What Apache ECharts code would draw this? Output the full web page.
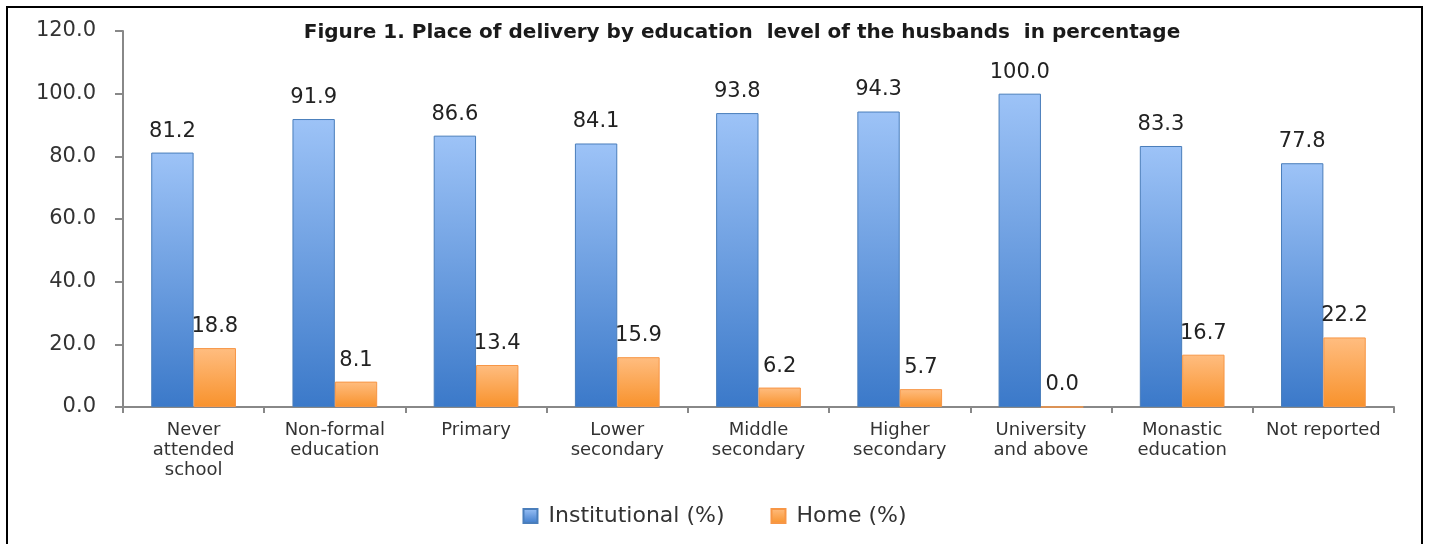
<!DOCTYPE html>
<html lang="en">
<head>
    <meta charset="UTF-8">
    <title>Place of delivery by education level of the husbands</title>
    <style>
        * { margin: 0; padding: 0; box-sizing: border-box; }
        body { background: #fff; width: 1429px; height: 544px; overflow: hidden; position: relative; }
        .frame {
            position: absolute;
            left: 6px;
            top: 6px;
            width: 1417px;
            height: 600px;
            border: 2px solid #000;
        }
        #chart { position: absolute; left: 0; top: 0; width: 1429px; height: 544px; }
    </style>
</head>
<body>
    <div class="frame"></div>
    <div id="chart"></div>

    <script src="https://cdn.jsdelivr.net/npm/echarts@6/dist/echarts.min.js"></script>
    <script>
        const categories = [
            'Never\nattended\nschool', 'Non-formal\neducation', 'Primary',
            'Lower\nsecondary', 'Middle\nsecondary', 'Higher\nsecondary',
            'University\nand above', 'Monastic\neducation', 'Not reported'
        ];
        const institutional = [81.2, 91.9, 86.6, 84.1, 93.8, 94.3, 100.0, 83.3, 77.8];
        const home = [18.8, 8.1, 13.4, 15.9, 6.2, 5.7, 0.0, 16.7, 22.2];

        const chart = echarts.init(document.getElementById('chart'));

        const labelStyle = {
            show: true,
            position: 'top',
            distance: 11,
            fontFamily: 'DejaVu Sans',
            fontSize: 21,
            color: '#222',
            formatter: p => p.value.toFixed(1)
        };

        chart.setOption({
            animation: false,
            title: {
                text: 'Figure 1. Place of delivery by education  level of the husbands  in percentage',
                left: 737,
                textAlign: 'center',
                top: 18,
                textStyle: { fontFamily: 'DejaVu Sans', fontWeight: 'bold', fontSize: 20, color: '#1a1a1a' }
            },
            legend: {
                bottom: 12,
                left: 'center',
                icon: 'rect',
                itemWidth: 14,
                itemHeight: 14,
                itemGap: 46,
                textStyle: { fontFamily: 'DejaVu Sans', fontSize: 22, color: '#333', padding: [0, 0, 0, 6] },
                data: ['Institutional (%)', 'Home (%)']
            },
            grid: { left: 123, right: 35, top: 31, bottom: 137 },
            xAxis: {
                type: 'category',
                data: categories,
                axisLine: { lineStyle: { color: '#888', width: 2 } },
                axisTick: { show: true, length: 6, lineStyle: { color: '#888', width: 2 } },
                axisLabel: {
                    interval: 0,
                    margin: 13,
                    fontFamily: 'DejaVu Sans',
                    fontSize: 18,
                    lineHeight: 20,
                    color: '#333'
                }
            },
            yAxis: {
                type: 'value',
                min: 0,
                max: 120,
                interval: 20,
                axisLine: { show: true, lineStyle: { color: '#888', width: 2 } },
                axisTick: { show: true, length: 8, lineStyle: { color: '#888', width: 2 } },
                splitLine: { show: false },
                axisLabel: {
                    margin: 27,
                    fontFamily: 'DejaVu Sans',
                    fontSize: 21,
                    color: '#333',
                    formatter: v => v.toFixed(1)
                }
            },
            series: [
                {
                    name: 'Institutional (%)',
                    type: 'bar',
                    data: institutional,
                    barGap: '0%',
                    barCategoryGap: '40%',
                    itemStyle: {
                        color: new echarts.graphic.LinearGradient(0, 0, 0, 1, [
                            { offset: 0, color: '#9dc3f7' },
                            { offset: 1, color: '#3b79c9' }
                        ]),
                        borderColor: '#4a7ebb',
                        borderWidth: 1
                    },
                    label: labelStyle
                },
                {
                    name: 'Home (%)',
                    type: 'bar',
                    data: home,
                    itemStyle: {
                        color: new echarts.graphic.LinearGradient(0, 0, 0, 1, [
                            { offset: 0, color: '#ffbd80' },
                            { offset: 1, color: '#f8922c' }
                        ]),
                        borderColor: '#f79646',
                        borderWidth: 1
                    },
                    label: labelStyle
                }
            ]
        });
    </script>
</body>
</html>
